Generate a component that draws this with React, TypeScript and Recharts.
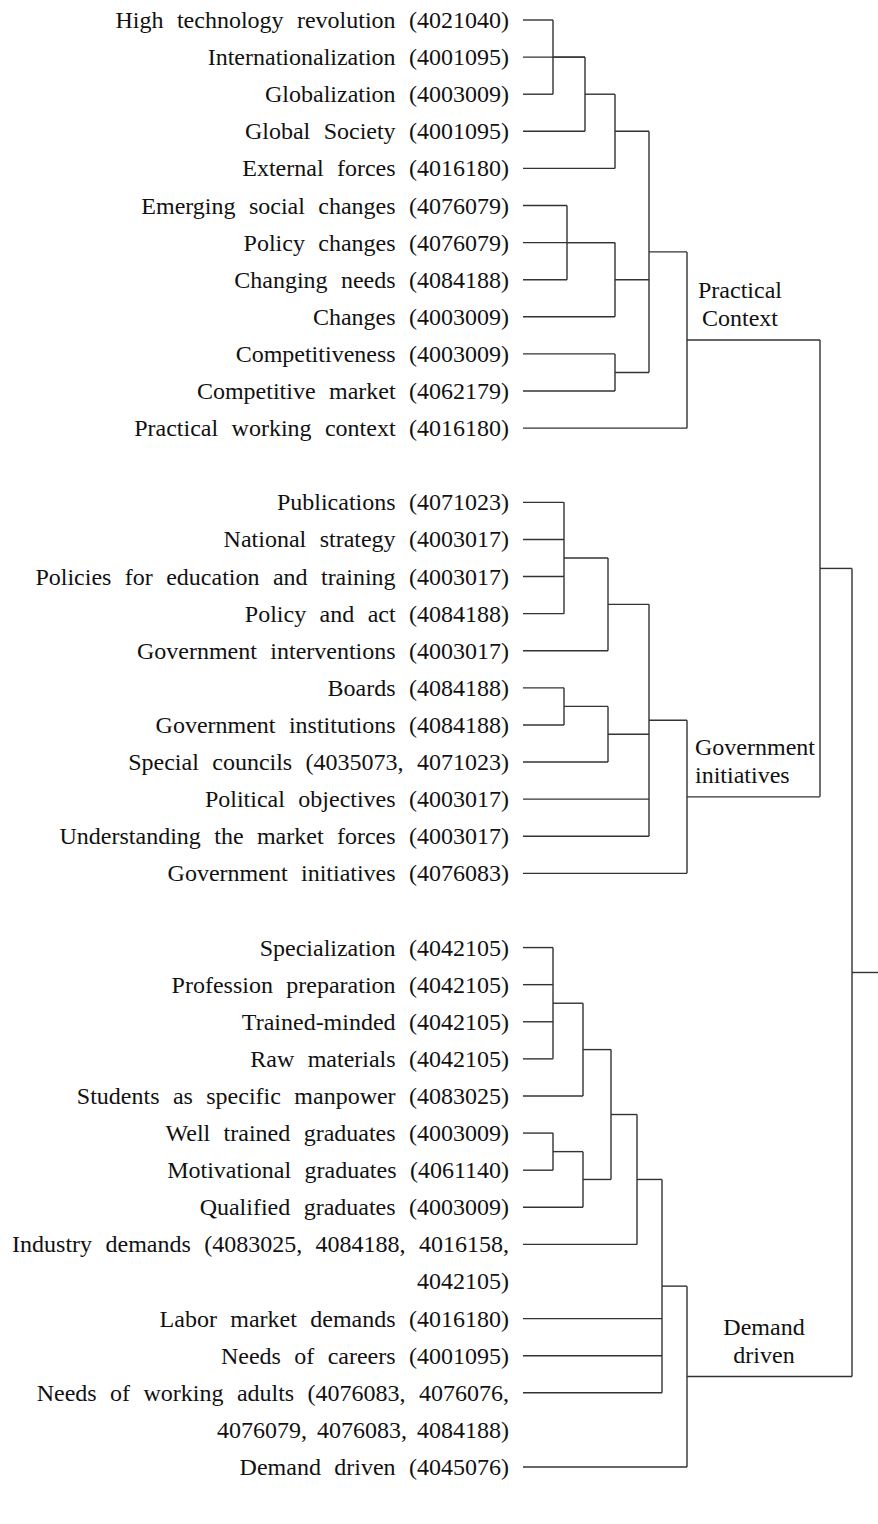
import { ComposedChart, ReferenceLine, Scatter, XAxis, YAxis } from 'recharts'

// one entry per text row, top to bottom ('' = blank gap row)
const rowLabels = [
  'High technology revolution (4021040)',
  'Internationalization (4001095)',
  'Globalization (4003009)',
  'Global Society (4001095)',
  'External forces (4016180)',
  'Emerging social changes (4076079)',
  'Policy changes (4076079)',
  'Changing needs (4084188)',
  'Changes (4003009)',
  'Competitiveness (4003009)',
  'Competitive market (4062179)',
  'Practical working context (4016180)',
  '',
  'Publications (4071023)',
  'National strategy (4003017)',
  'Policies for education and training (4003017)',
  'Policy and act (4084188)',
  'Government interventions (4003017)',
  'Boards (4084188)',
  'Government institutions (4084188)',
  'Special councils (4035073, 4071023)',
  'Political objectives (4003017)',
  'Understanding the market forces (4003017)',
  'Government initiatives (4076083)',
  '',
  'Specialization (4042105)',
  'Profession preparation (4042105)',
  'Trained-minded (4042105)',
  'Raw materials (4042105)',
  'Students as specific manpower (4083025)',
  'Well trained graduates (4003009)',
  'Motivational graduates (4061140)',
  'Qualified graduates (4003009)',
  'Industry demands (4083025, 4084188, 4016158,',
  '4042105)',
  'Labor market demands (4016180)',
  'Needs of careers (4001095)',
  'Needs of working adults (4076083, 4076076,',
  '4076079, 4076083, 4084188)',
  'Demand driven (4045076)'
]

// merge trees: h = merge distance, c = children (row index of a leaf, or a sub-cluster)
type Cluster = { h: number; c: Array<number | Cluster> }

const practicalContext: Cluster = {
  h: 164,
  c: [
    {
      h: 126,
      c: [
        { h: 92, c: [{ h: 62, c: [{ h: 30, c: [0, 2] }, 1, 3] }, 4] },
        { h: 92, c: [{ h: 44, c: [5, 7] }, 6, 8] },
        { h: 92, c: [9, 10] }
      ]
    },
    11
  ]
}

const governmentInitiatives: Cluster = {
  h: 164,
  c: [
    {
      h: 126,
      c: [
        { h: 85, c: [{ h: 41, c: [13, 14, 15, 16] }, 17] },
        { h: 85, c: [{ h: 41, c: [18, 19] }, 20] },
        21,
        22
      ]
    },
    23
  ]
}

const demandDriven: Cluster = {
  h: 164,
  c: [
    {
      h: 139,
      c: [
        {
          h: 114,
          c: [
            {
              h: 88,
              c: [
                { h: 60, c: [{ h: 30, c: [25, 26, 27, 28] }, 29] },
                { h: 60, c: [{ h: 30, c: [30, 31] }, 32] }
              ]
            },
            33
          ]
        },
        35,
        36,
        37
      ]
    },
    39
  ]
}

const root: Cluster = {
  h: 329,
  c: [{ h: 297, c: [practicalContext, governmentInitiatives] }, demandDriven]
}

const clusterNames = [
  { cluster: practicalContext, lines: ['Practical', 'Context'] },
  { cluster: governmentInitiatives, lines: ['Government', 'initiatives'] },
  { cluster: demandDriven, lines: ['Demand', 'driven'] }
]

const X_MAX = 355
const ROW_MAX = 39
const FONT = "'Liberation Serif', 'Times New Roman', serif"

type Pt = { x: number; y: number }
const segments: [Pt, Pt][] = []
const outY = new Map<Cluster, number>()

function layout(node: Cluster): number {
  const ys = node.c.map((ch) => (typeof ch === 'number' ? ch : layout(ch)))
  node.c.forEach((ch, i) => {
    const from = typeof ch === 'number' ? 0 : ch.h
    segments.push([{ x: from, y: ys[i] }, { x: node.h, y: ys[i] }])
  })
  const lo = Math.min(...ys)
  const hi = Math.max(...ys)
  segments.push([{ x: node.h, y: lo }, { x: node.h, y: hi }])
  const y = (lo + hi) / 2
  outY.set(node, y)
  return y
}

const rootY = layout(root)
segments.push([{ x: root.h, y: rootY }, { x: X_MAX, y: rootY }])

const labelPoints = clusterNames.map((c, i) => ({
  x: c.cluster.h,
  y: outY.get(c.cluster) as number,
  lines: c.lines,
  idx: i
}))

// pixel placement of the cluster captions relative to their join
const captionPlace = [
  { dx: 53, anchor: 'middle' },
  { dx: 8, anchor: 'start' },
  { dx: 77, anchor: 'middle' }
]

const tickRows = rowLabels.map((_, i) => i).filter((i) => rowLabels[i] !== '')

function LeafTick(props: any) {
  const { x, y, payload } = props
  const label = rowLabels[payload.value]
  const wrapped = /^\d/.test(label)
  return (
    <text
      x={x}
      y={y}
      dy={8}
      textAnchor="end"
      fontFamily={FONT}
      fontSize={24}
      fill="#111"
      style={{ wordSpacing: wrapped ? 4 : 7.4 }}
    >
      {label}
    </text>
  )
}

function Caption(props: any) {
  const { cx, cy, payload } = props
  const place = captionPlace[payload.idx]
  const tx = cx + place.dx
  return (
    <text x={tx} y={cy} textAnchor={place.anchor} fontFamily={FONT} fontSize={24} fill="#111">
      <tspan x={tx} dy={-42}>
        {payload.lines[0]}
      </tspan>
      <tspan x={tx} dy={28}>
        {payload.lines[1]}
      </tspan>
    </text>
  )
}

export default function App() {
  return (
    <div style={{ width: 878, height: 1524, background: '#fff' }}>
      <style>{'body{margin:0}'}</style>
      <ComposedChart width={878} height={1524} margin={{ top: 20, right: 0, bottom: 57, left: 0 }}>
        <XAxis type="number" dataKey="x" domain={[0, X_MAX]} hide allowDataOverflow />
        <YAxis
          type="number"
          dataKey="y"
          domain={[0, ROW_MAX]}
          reversed
          allowDataOverflow
          width={523}
          ticks={tickRows}
          interval={0}
          axisLine={false}
          tickLine={false}
          tickSize={0}
          tickMargin={14}
          tick={<LeafTick />}
        />
        {segments.map((s, i) => (
          <ReferenceLine key={i} segment={s} stroke="#333" strokeWidth={1.4} ifOverflow="visible" />
        ))}
        <Scatter data={labelPoints} dataKey="y" shape={<Caption />} isAnimationActive={false} />
      </ComposedChart>
    </div>
  )
}
